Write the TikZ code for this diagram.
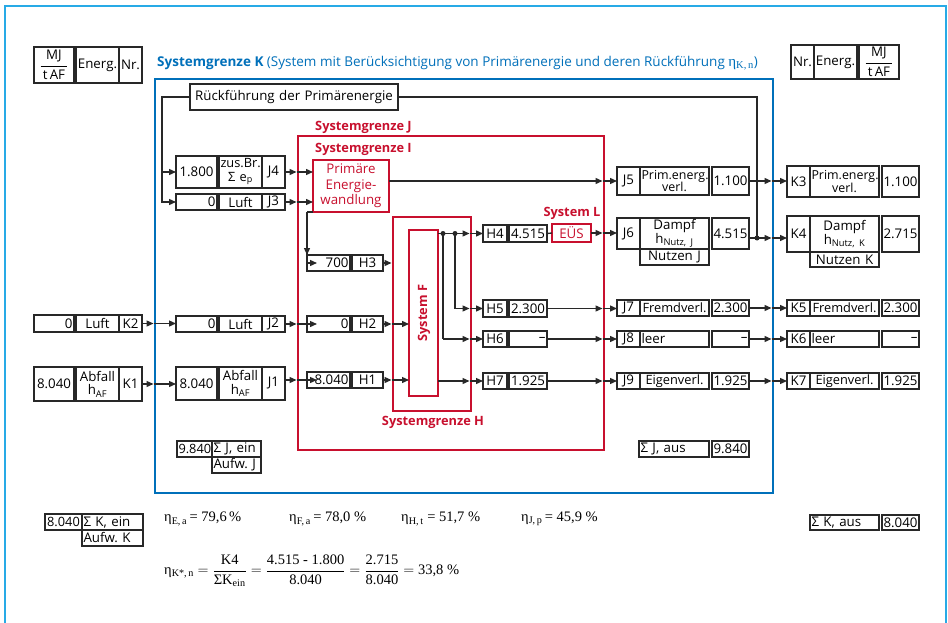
\documentclass[tikz,border=0pt]{standalone}
\usepackage{amsmath}
\usepackage{fontspec}
\setmainfont{Open Sans}
\newfontfamily\tms{Liberation Serif}
\usetikzlibrary{arrows.meta,calc}
\definecolor{rd}{RGB}{200,16,46}
\definecolor{kb}{RGB}{0,112,186}
\definecolor{lb}{RGB}{40,170,230}
\definecolor{lk}{RGB}{40,40,40}
\frenchspacing
\newcommand\myfs{\fontsize{13.3}{13.8}\selectfont\frenchspacing}
\newcommand\myfsb{\fontsize{12.8}{13.5}\selectfont\frenchspacing}
\newcommand\myfsn{\fontsize{12.8}{13.2}\selectfont\frenchspacing}
\newcommand\myfsp{\fontsize{12.4}{12.8}\selectfont\frenchspacing}
\newcommand\tmsfs{\tms\fontsize{14.5}{15}\selectfont\frenchspacing}
\newcommand\mybox[7][bx]{\node[#1,minimum width=\fpeval{#5-#3}pt,minimum height=\fpeval{#6-#4}pt,text width=\fpeval{#5-#3-3}pt] (#2) at ({(#3+#5)/2},{(#4+#6)/2}) {#7};}
\newcommand\darr[3]{\draw[arr] (#1) -- ([xshift=-1.5pt]#2 |- #1); \draw[arr] ([xshift=-1.5pt]#2 |- #1) -- (#3 |- #1);}
\newcommand\darri[3]{\draw[arr] (#1) -- ([xshift=-1.5pt]#2 |- #1); \draw[arr] ([xshift=-1.5pt]#2 |- #1) -- ([xshift=10pt]#3 |- #1);}
\begin{document}
\begin{tikzpicture}[x=1pt,y=-1pt,
 bx/.style={draw=lk,line width=1.1pt,inner sep=0pt,outer sep=0pt,font=\myfs,align=center},
 bxr/.style={bx,align=right},
 bxl/.style={bx,align=left},
 bxn/.style={bx,font=\myfsn},
 bxp/.style={bx,font=\myfsp},
 rbx/.style={bx,draw=rd,line width=2.4pt,text=rd},
 kfr/.style={bx,draw=kb,line width=2.6pt},
 cn/.style={draw=lk,line width=1.3pt},
 arr/.style={cn,-{Triangle[length=7pt,width=6pt]}},
 dot/.style={circle,fill=lk,inner sep=0pt,minimum size=5pt},
 rlab/.style={font=\myfsb\bfseries,text=rd,inner sep=0pt},
]
\useasboundingbox (0,0) rectangle (948,623);
\fill[white] (0,0) rectangle (948,623);
\draw[lb,line width=1.5pt] (5,623) -- (5,6) -- (946,6) -- (946,623);

% header boxes
\mybox{hmj}{34}{47}{74}{83}{$\genfrac{}{}{1pt}{0}{\mbox{MJ}}{\mbox{\,t\,AF\,}}$}
\mybox{hen}{76}{47}{119}{83}{Energ.}
\mybox{hnr}{119}{47}{142}{83}{Nr.}
\mybox{hnr2}{791}{45}{814}{79}{Nr.}
\mybox{hen2}{814}{45}{857}{79}{Energ.}
\mybox{hmj2}{859}{45}{899}{79}{$\genfrac{}{}{1pt}{0}{\mbox{MJ}}{\mbox{\,t\,AF\,}}$}

\node[anchor=west,inner sep=0pt,font=\fontsize{13.5}{14}\selectfont,text=kb] (title) at (157,63) {\textbf{Systemgrenze K} (System mit Berücksichtigung von Primärenergie und deren Rückführung {\tms\fontsize{15}{15}\selectfont η\textsubscript{K,\,n}})};

% frames
\mybox[kfr]{sgK}{155}{79}{773}{493}{}
\mybox[rbx]{sgJ}{298}{136}{604}{450}{}
\mybox[rbx]{sgH}{393}{217}{471}{411}{}
\mybox[rbx]{sf}{409}{230}{438}{396}{}
\mybox[rbx,font=\fontsize{13.3}{15.5}\selectfont]{pe}{313}{160}{389}{212}{Primäre\\Energie-\\wandlung}
\mybox[rbx,line width=2.2pt]{eus}{552}{224}{591}{242}{EÜS}

\node[rlab,anchor=west] (lJ) at (315,127) {Systemgrenze J};
\node[rlab,anchor=west] (lI) at (315,149) {Systemgrenze I};
\node[rlab] (lL) at (572,213) {System L};
\node[rlab] (lH) at (433,422) {Systemgrenze H};
\node[rlab,rotate=90] (lF) at (424,313) {System F};

% Rueckfuehrung
\mybox{rf}{190}{84}{398}{110}{Rückführung der Primärenergie}

% K left
\mybox[bxr]{k2v}{34}{315}{74}{332}{0}
\mybox{k2t}{76}{315}{119}{332}{Luft}
\mybox{k2}{119}{315}{142}{332}{K2}
\mybox{k1v}{34}{367}{74}{401}{8.040}
\mybox{k1t}{76}{367}{119}{401}{Abfall\\h\textsubscript{AF}}
\mybox{k1}{119}{367}{142}{401}{K1}

% J left
\mybox{j4v}{176}{156}{217}{188}{1.800}
\mybox[bxn]{j4t}{219}{156}{262}{188}{zus.Br.\\Σ e\textsubscript{p}}
\mybox{j4}{262}{156}{285}{188}{J4}
\mybox[bxr]{j3v}{176}{194}{217}{210}{0}
\mybox{j3t}{219}{194}{262}{210}{Luft}
\mybox{j3}{262}{194}{285}{210}{J3}
\mybox[bxr]{j2v}{176}{316}{217}{332}{0}
\mybox{j2t}{219}{316}{262}{332}{Luft}
\mybox{j2}{262}{316}{285}{332}{J2}
\mybox{j1v}{176}{367}{217}{400}{8.040}
\mybox{j1t}{219}{367}{262}{400}{Abfall\\h\textsubscript{AF}}
\mybox{j1}{262}{367}{285}{400}{J1}

% H left
\mybox[bxr]{h3v}{307}{255}{350}{271}{700}
\mybox{h3}{352}{255}{383}{271}{H3}
\mybox[bxr]{h2v}{307}{316}{350}{332}{0}
\mybox{h2}{352}{316}{383}{332}{H2}
\mybox[bxr]{h1v}{307}{372}{350}{388}{8.040}
\mybox{h1}{352}{372}{383}{388}{H1}

% H right
\mybox{h4}{483}{225}{507}{242}{H4}
\mybox{h4v}{509}{225}{547}{242}{4.515}
\mybox{h5}{483}{300}{507}{317}{H5}
\mybox{h5v}{509}{300}{547}{317}{2.300}
\mybox{h6}{483}{331}{507}{347}{H6}
\mybox[bxr]{h6v}{509}{331}{547}{347}{–}
\mybox{h7}{483}{373}{507}{389}{H7}
\mybox{h7v}{509}{373}{547}{389}{1.925}

% J right
\mybox{j5}{617}{167}{640}{195}{J5}
\mybox[bxp]{j5t}{640}{167}{709}{195}{Prim.energ.\\verl.}
\mybox{j5v}{712}{167}{749}{195}{1.100}
\mybox{j6}{617}{218}{640}{249}{J6}
\mybox{j6t}{640}{218}{709}{249}{Dampf\\h\textsubscript{Nutz, J}}
\mybox{j6n}{640}{249}{709}{265}{Nutzen J}
\mybox{j6v}{712}{218}{749}{249}{4.515}
\mybox{j7}{617}{300}{640}{316}{J7}
\mybox[bxn]{j7t}{640}{300}{709}{316}{Fremdverl.}
\mybox{j7v}{712}{300}{749}{316}{2.300}
\mybox{j8}{617}{331}{640}{347}{J8}
\mybox[bxl]{j8t}{640}{331}{709}{347}{leer}
\mybox[bxr]{j8v}{712}{331}{749}{347}{–}
\mybox{j9}{617}{373}{640}{389}{J9}
\mybox[bxn]{j9t}{640}{373}{709}{389}{Eigenverl.}
\mybox{j9v}{712}{373}{749}{389}{1.925}

% K right
\mybox{k3}{787}{166}{810}{197}{K3}
\mybox[bxp]{k3t}{810}{166}{879}{197}{Prim.energ.\\verl.}
\mybox{k3v}{882}{166}{919}{197}{1.100}
\mybox{k4}{787}{216}{810}{252}{K4}
\mybox{k4t}{810}{216}{879}{252}{Dampf\\h\textsubscript{Nutz, K}}
\mybox{k4n}{810}{252}{879}{267}{Nutzen K}
\mybox{k4v}{882}{216}{919}{252}{2.715}
\mybox{k5}{787}{300}{810}{316}{K5}
\mybox[bxn]{k5t}{810}{300}{879}{316}{Fremdverl.}
\mybox{k5v}{882}{300}{919}{316}{2.300}
\mybox{k6}{787}{331}{810}{347}{K6}
\mybox[bxl]{k6t}{810}{331}{879}{347}{leer}
\mybox[bxr]{k6v}{882}{331}{919}{347}{–}
\mybox{k7}{787}{373}{810}{389}{K7}
\mybox[bxn]{k7t}{810}{373}{879}{389}{Eigenverl.}
\mybox{k7v}{882}{373}{919}{389}{1.925}

% sums
\mybox[bxn]{sjv}{177}{441}{212}{457}{9.840}
\mybox[bxl]{sjt}{212}{441}{261}{457}{Σ J, ein}
\mybox[bxl]{sja}{212}{457}{261}{473}{Aufw. J}
\mybox[bxl]{sjo}{639}{441}{709}{457}{Σ J, aus}
\mybox{sjov}{712}{441}{749}{457}{9.840}
\mybox[bxn]{skv}{45}{514}{82}{530}{8.040}
\mybox[bxl]{skt}{82}{514}{143}{530}{Σ K, ein}
\mybox[bxl]{ska}{82}{530}{143}{546}{Aufw. K}
\mybox[bxl]{sko}{810}{515}{879}{530}{Σ K, aus}
\mybox{skov}{882}{515}{919}{530}{8.040}

% efficiencies
\node[anchor=west,inner sep=0pt,font=\tmsfs] (e1) at (164,519) {η\textsubscript{E,\,a}\,= 79,6\,\%};
\node[anchor=west,inner sep=0pt,font=\tmsfs] (e2) at (289,519) {η\textsubscript{F,\,a}\,= 78,0 \%};
\node[anchor=west,inner sep=0pt,font=\tmsfs] (e3) at (401,519) {η\textsubscript{H,\,t} = 51,7 \%};
\node[anchor=west,inner sep=0pt,font=\tmsfs] (e4) at (521,519) {η\textsubscript{J,\,p}\,= 45,9 \%};
\node[anchor=west,inner sep=0pt,font=\tmsfs] (e5) at (164,571) {η\textsubscript{K*,\,n} $\displaystyle=\frac{\mbox{K4}}{\mbox{ΣK\textsubscript{ein}}}=\frac{\mbox{4.515 - 1.800}}{\mbox{8.040}}=\frac{\mbox{2.715}}{\mbox{8.040}}=$ 33,8 \%};

% connectors: Rueckfuehrung
\coordinate (rl3) at (162,202);
\coordinate (rl4) at (162,172);
\draw[arr] (rf.west) -| (rl3) -- (j3v.west);
\draw[arr] (rl4) -- (j4v.west);
\coordinate (jk) at (757,238);
\draw[cn] (rf.east) -| (jk);
\node[dot] (jkd) at (jk) {};

% K -> J
\darr{k2.east}{sgK.west}{j2v.west}
\darr{k1.east}{sgK.west}{j1v.west}
% J -> I/H
\darr{j4.east}{sgJ.west}{pe.west}
\darr{j3.east}{sgJ.west}{pe.west}
\darri{j2.east}{sgJ.west}{h2v.west}
\coordinate (s1) at (j1.east |- h1v.west);
\darri{s1}{sgJ.west}{h1v.west}
% Primaere -> 700
\coordinate (pc) at ([xshift=-6pt]pe.south west);
\draw[cn] (pe.south west) -- (pc);
\draw[arr] (pc) -- (pc |- h3v.north);
\draw[arr] (pc) |- ([xshift=10pt]h3v.west);
% Primaere -> J5
\coordinate (s5) at (pe.east |- j5.west);
\darr{s5}{sgJ.east}{j5.west}
% H -> F
\draw[arr] (h3.east) -- ([xshift=-1.5pt]sgH.west |- h3.east);
\darr{h2.east}{sgH.west}{sf.west}
\darr{h1.east}{sgH.west}{sf.west}
% F -> H out
\coordinate (d1) at (443,233.5);
\coordinate (d2) at (455,233.5);
\draw[cn] (sf.east |- d1) -- (d2);
\darr{d2}{sgH.east}{h4.west}
\coordinate (c5) at (d2 |- h5.west);
\coordinate (c6) at (d1 |- h6.west);
\draw[cn] (d2) -- (c5);
\draw[cn] (d1) -- (c6);
\darr{c5}{sgH.east}{h5.west}
\darr{c6}{sgH.east}{h6.west}
\node[dot] (d1d) at (d1) {};
\node[dot] (d2d) at (d2) {};
\coordinate (s7) at (sf.east |- h7.west);
\darr{s7}{sgH.east}{h7.west}
% H -> J
\draw[cn] (h4v.east) -- (eus.west);
\darr{eus.east}{sgJ.east}{j6.west}
\darr{h5v.east}{sgJ.east}{j7.west}
\darr{h6v.east}{sgJ.east}{j8.west}
\darr{h7v.east}{sgJ.east}{j9.west}
% J -> K
\darr{j5v.east}{sgK.east}{k3.west}
\coordinate (s6) at (j6v.east |- jk);
\darr{s6}{sgK.east}{k4.west}
\darr{j7v.east}{sgK.east}{k5.west}
\darr{j8v.east}{sgK.east}{k6.west}
\darr{j9v.east}{sgK.east}{k7.west}
\end{tikzpicture}
\end{document}
